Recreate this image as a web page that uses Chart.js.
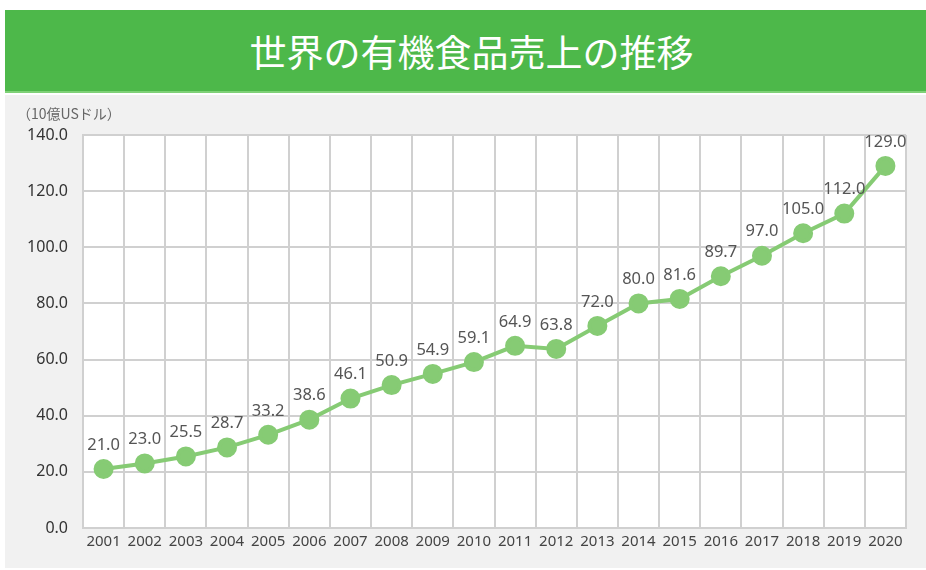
<!DOCTYPE html>
<html>
<head>
<meta charset="utf-8">
<script src="https://cdn.jsdelivr.net/npm/chart.js@4"></script>
<style>
  body { margin: 0; background: #fff; width: 926px; height: 570px; overflow: hidden; }
  #header {
    position: absolute; left: 5px; top: 10px; width: 921px; height: 83px;
    background: #4db84a; border-bottom: 2px solid #7fd177;
    color: #fff; font-family: "Noto Sans CJK JP", sans-serif; font-size: 37px;
    line-height: 83px; text-align: center; padding-left: 12px; box-sizing: border-box;
  }
  #panel { position: absolute; left: 5px; top: 95px; width: 921px; height: 473px; background: #f1f1f1; }
  #unit {
    position: absolute; left: 12px; top: 8px; font-family: "Noto Sans CJK JP", sans-serif;
    font-size: 14px; color: #666;
  }
  #wrap { position: absolute; left: 0; top: 0; width: 921px; height: 473px; }
</style>
</head>
<body>
<div id="header">世界の有機食品売上の推移</div>
<div id="panel">
  <div id="wrap"><canvas id="chart"></canvas></div>
  <div id="unit">（10億USドル）</div>
</div>
<script>
const years = ["2001","2002","2003","2004","2005","2006","2007","2008","2009","2010",
  "2011","2012","2013","2014","2015","2016","2017","2018","2019","2020"];
const sales = [21.0, 23.0, 25.5, 28.7, 33.2, 38.6, 46.1, 50.9, 54.9, 59.1,
  64.9, 63.8, 72.0, 80.0, 81.6, 89.7, 97.0, 105.0, 112.0, 129.0];
const yMax = 140;
const yStep = 20;

const plotBg = {
  id: "plotBg",
  beforeDraw(chart) {
    const a = chart.chartArea, ctx = chart.ctx;
    ctx.save();
    ctx.fillStyle = "#fff";
    ctx.fillRect(a.left, a.top, a.right - a.left, a.bottom - a.top);
    ctx.restore();
  }
};

// value text above each point
const valueLabels = {
  id: "valueLabels",
  afterDatasetsDraw(chart) {
    const ctx = chart.ctx;
    const meta = chart.getDatasetMeta(0);
    ctx.save();
    ctx.font = "16.5px 'Noto Sans', sans-serif";
    ctx.fillStyle = "#555";
    ctx.textAlign = "center";
    ctx.textBaseline = "middle";
    meta.data.forEach((pt, i) => {
      ctx.fillText(sales[i].toFixed(1), pt.x, pt.y - 24);
    });
    ctx.restore();
  }
};

new Chart(document.getElementById("chart"), {
  type: "line",
  data: {
    labels: years,
    datasets: [{
      data: sales,
      borderColor: "#86cb74",
      backgroundColor: "#86cb74",
      borderWidth: 4,
      pointRadius: 8,
      pointHoverRadius: 8,
      tension: 0
    }]
  },
  options: {
    responsive: true,
    maintainAspectRatio: false,
    animation: false,
    layout: { padding: { top: 40, right: 20, left: 0, bottom: 0 } },
    plugins: { legend: { display: false }, tooltip: { enabled: false } },
    scales: {
      x: {
        offset: true,
        grid: { color: "#d0d0d0", lineWidth: 2, drawTicks: false, offset: true },
        border: { color: "#d0d0d0", width: 2 },
        ticks: { color: "#444", font: { size: 15, family: "'Noto Sans', sans-serif" }, padding: 5, maxRotation: 0, autoSkip: false },
        afterFit(s) { s.height = 40; }
      },
      y: {
        min: 0, max: yMax,
        grid: { color: "#d0d0d0", lineWidth: 2, drawTicks: false },
        border: { color: "#d0d0d0", width: 2 },
        ticks: {
          stepSize: yStep, color: "#333", padding: 15,
          font: { size: 16, family: "'Noto Sans', sans-serif" },
          callback: v => v.toFixed(1)
        },
        afterFit(s) { s.width = 78; }
      }
    }
  },
  plugins: [plotBg, valueLabels]
});
</script>
</body>
</html>
